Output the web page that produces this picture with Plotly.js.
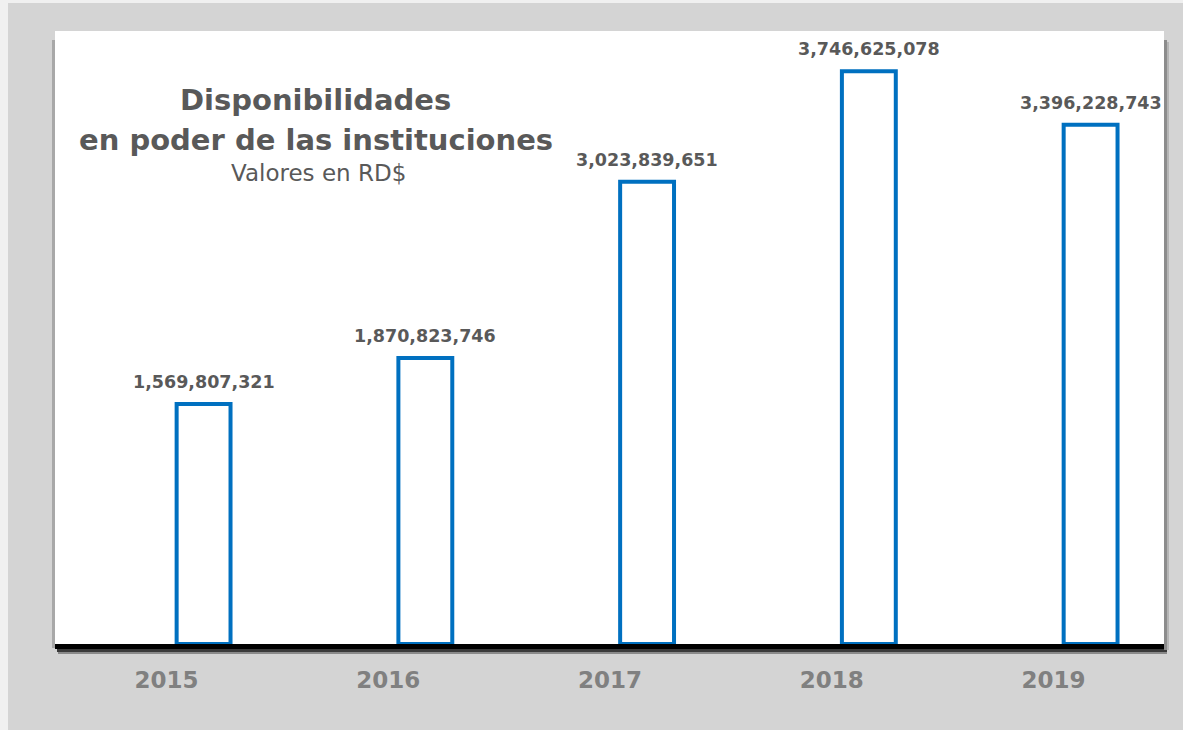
<!DOCTYPE html>
<html>
<head>
<meta charset="utf-8">
<script src="https://cdn.plot.ly/plotly-3.0.1.min.js"></script>
<style>
html,body{margin:0;padding:0;background:#d4d4d4;}
#chart{width:1183px;height:730px;}
</style>
</head>
<body>
<div id="chart"></div>
<script>
// Data
const years = ["2015", "2016", "2017", "2018", "2019"];
const values = [1569807321, 1870823746, 3023839651, 3746625078, 3396228743];
const titleLine1 = "Disponibilidades";
const titleLine2 = "en poder de las instituciones";
const subtitle = "Valores en RD$";

const labelColor = "#595959";
const barBlue = "#0070C0";

const trace = {
  type: "bar",
  x: years,
  y: values,
  width: 0.243,
  marker: { color: "#ffffff", line: { color: barBlue, width: 4 } },
  hoverinfo: "x+y",
  showlegend: false
};

// data labels placed at each bar (category index i on the category axis)
const valueAnnotations = years.map((yr, i) => ({
  x: i, y: values[i], xref: "x", yref: "y",
  text: "<b>" + values[i].toLocaleString("en-US") + "</b>",
  showarrow: false, yanchor: "bottom", yshift: 10,
  font: { family: "DejaVu Sans", size: 17.5, color: labelColor }
}));

const titleAnnotations = [
  { text: "<b>" + titleLine1 + "</b>", x: 0.2349, y: 0.8874, size: 29, color: labelColor },
  { text: "<b>" + titleLine2 + "</b>", x: 0.2353, y: 0.8222, size: 29, color: labelColor },
  { text: subtitle, x: 0.2380, y: 0.7684, size: 23, color: labelColor }
].map(a => ({
  text: a.text, x: a.x, y: a.y, xref: "paper", yref: "paper",
  xanchor: "center", yanchor: "middle", showarrow: false,
  font: { family: "DejaVu Sans", size: a.size, color: a.color }
}));

// pixel helpers for decorative frame shapes (plot area: x 55..1164, y 31..644)
const PX0 = 55, PX1 = 1164, PY0 = 31, PY1 = 644;
const px = v => (v - PX0) / (PX1 - PX0);
const py = v => (PY1 - v) / (PY1 - PY0);

const shapes = [
  { type: "rect", xref: "paper", yref: "paper", x0: px(0), x1: px(1183), y0: py(3), y1: py(0), fillcolor: "#f0f0f0", line: { width: 0 }, layer: "above" },
  { type: "rect", xref: "paper", yref: "paper", x0: px(0), x1: px(8), y0: py(730), y1: py(0), fillcolor: "#f0f0f0", line: { width: 0 }, layer: "above" },
  { type: "rect", xref: "paper", yref: "paper", x0: px(57), x1: px(1167), y0: py(652), y1: py(649), fillcolor: "#3a3a3a", line: { width: 0 }, layer: "above" },
  { type: "rect", xref: "paper", yref: "paper", x0: px(58), x1: px(1167), y0: py(654), y1: py(652), fillcolor: "#8a8a8a", line: { width: 0 }, layer: "above" },
  { type: "rect", xref: "paper", yref: "paper", x0: px(1164), x1: px(1167), y0: py(650), y1: py(40), fillcolor: "#8c8c8c", line: { width: 0 }, layer: "above" },
  { type: "rect", xref: "paper", yref: "paper", x0: px(1167), x1: px(1169), y0: py(650), y1: py(42), fillcolor: "#b5b5b5", line: { width: 0 }, layer: "above" },
  { type: "rect", xref: "paper", yref: "paper", x0: px(52), x1: px(55), y0: py(648), y1: py(40), fillcolor: "#a8a8a8", line: { width: 0 }, layer: "above" }
];

const layout = {
  width: 1183, height: 730,
  margin: { l: 55, r: 19, t: 31, b: 86, pad: 0 },
  paper_bgcolor: "#d4d4d4",
  plot_bgcolor: "#ffffff",
  xaxis: {
    type: "category",
    range: [-0.670, 4.331],
    showgrid: false, zeroline: false,
    showline: true, linecolor: "#000000", linewidth: 5,
    ticks: "",
    ticklabelshift: -37,
    ticklabelstandoff: 11,
    tickfont: { family: "DejaVu Sans", size: 23, color: "#808080", weight: "bold" },
    fixedrange: true
  },
  yaxis: {
    range: [0, 4.01e9],
    showgrid: false, zeroline: false, showline: false,
    showticklabels: false, ticks: "",
    fixedrange: true
  },
  annotations: valueAnnotations.concat(titleAnnotations),
  shapes: shapes,
  showlegend: false
};

Plotly.newPlot("chart", [trace], layout, { displayModeBar: false, staticPlot: true });
</script>
</body>
</html>
